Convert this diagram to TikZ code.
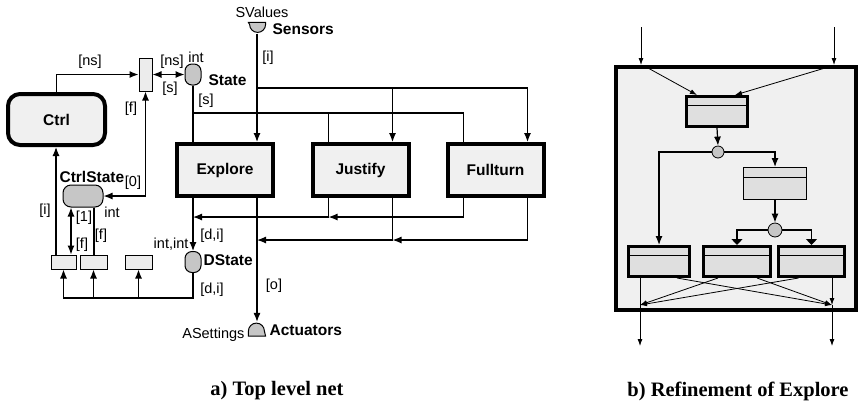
\documentclass[tikz,border=0pt]{standalone}
\usepackage{fontspec}
\setmainfont{Liberation Sans}
\newfontfamily\capfont{Liberation Serif}
\usetikzlibrary{arrows.meta}

\begin{document}
\begin{tikzpicture}[x=1pt, y=-1pt, >={Latex[length=9pt,width=7pt]}, line width=1.2pt,
    font=\fontsize{14.5}{16}\selectfont,
    trans/.style={draw, fill=gray!15, line width=1pt, inner sep=0pt},
    place/.style={draw, fill=gray!45, rounded corners=7pt, line width=1pt, inner sep=0pt},
    proc/.style={draw, fill=gray!12, line width=4pt, inner sep=0pt, minimum width=96, minimum height=52, font=\fontsize{15.5}{17}\selectfont\bfseries},
    sub/.style={draw, fill=gray!25, line width=3pt, inner sep=0pt, minimum height=30},
    lbl/.style={inner sep=1pt},
    bold/.style={font=\fontsize{15.5}{17}\selectfont\bfseries, inner sep=1pt},
    thin/.style={line width=0.8pt, -{Latex[length=7pt,width=5pt]}},
    wide/.style={-{Triangle[width=11pt,length=6pt]}}]

    \useasboundingbox (0,0) rectangle (862,408);

    % a) top level net
    \node[draw, fill=gray!12, line width=4pt, rounded corners=12pt, minimum width=97, minimum height=51, font=\fontsize{15.5}{17}\selectfont\bfseries] (ctrl) at (56.5,119.5) {Ctrl};
    \node[trans, minimum width=13, minimum height=33] (tr1) at (145.5,74.5) {};
    \node[place, minimum width=16, minimum height=21] (state) at (193,74.5) {};
    \node[place, rounded corners=8pt, minimum width=40, minimum height=22] (ctrlstate) at (83,196) {};
    \node[place, minimum width=16, minimum height=21] (dstate) at (193,262) {};

    \node[proc] (explore) at (225,170) {Explore};
    \node[proc] (justify) at (360.5,170) {Justify};
    \node[proc] (fullturn) at (495.5,170) {Fullturn};

    \node[trans, minimum width=25, minimum height=14] (b1) at (63.5,262) {};
    \node[trans, minimum width=27, minimum height=14] (b2) at (93.5,262) {};
    \node[trans, minimum width=27, minimum height=14] (b3) at (138.5,262) {};

    \node[inner sep=0pt, minimum width=16, minimum height=10] (sens) at (257,28) {};
    \draw[fill=gray!45, line width=1pt] (sens.north west) -- (sens.north east) -- ++(0,2) arc[start angle=0, end angle=180, radius=8] -- cycle;
    \node[inner sep=0pt, minimum width=16, minimum height=13] (act) at (257,329) {};
    \draw[fill=gray!45, line width=1pt] (act.south west) -- ++(0,-5) arc[start angle=180, end angle=360, radius=8] -- (act.south east) -- cycle;

    \coordinate (sj) at (193,113);
    \coordinate (ij) at (257,88);
    \coordinate (di1) at (328.5,217);
    \coordinate (di0) at (193,217);
    \coordinate (do1) at (392.5,240);
    \coordinate (do0) at (257,240);
    \coordinate (bot) at (63.5,298);

    \draw[->] (ctrl.north) |- (tr1.west);
    \draw[<->] (tr1.east) -- (state.west);
    \draw[<->] (ctrlstate.east) -| (tr1.south);
    \draw (state.south) -- (state.south |- explore.north);
    \draw (sj) -| ([xshift=-32]fullturn.north);
    \draw ([xshift=-32]justify.north |- sj) -- ([xshift=-32]justify.north);
    \draw[->] (sens.south) -- (sens.south |- explore.north);
    \draw[->] (ij) -| ([xshift=32]fullturn.north);
    \draw[->] ([xshift=32]justify.north |- ij) -- ([xshift=32]justify.north);

    \draw[->] ([xshift=-32]fullturn.south) |- (di1);
    \draw[->] ([xshift=-32]justify.south) |- (di0);
    \draw[->] ([xshift=32]fullturn.south) |- (do1);
    \draw[->] ([xshift=32]justify.south) |- (do0);
    \draw[->] ([xshift=-32]explore.south) -- (dstate.north);
    \draw[->] ([xshift=32]explore.south) -- (act.north);

    \draw[->] (dstate.south) |- (bot) -- (b1.south);
    \draw[->] (b2.south |- bot) -- (b2.south);
    \draw[->] (b3.south |- bot) -- (b3.south);
    \draw[->] ([xshift=-7.5]b1.north) -- ([xshift=-7.5]b1.north |- ctrl.south);
    \draw[<->] ([xshift=-12]ctrlstate.south) -- ([xshift=-12]ctrlstate.south |- b1.north);
    \draw ([xshift=11]ctrlstate.south) -- ([xshift=11]ctrlstate.south |- b2.north);

    % labels
    \node[lbl] (l_sv) at (262,12) {SValues};
    \node[bold, anchor=west] (l_sens) at (271,29) {Sensors};
    \node[lbl] (l_i1) at (268,58) {[i]};
    \node[lbl] (l_ns1) at (90,62) {[ns]};
    \node[lbl] (l_ns2) at (172,62) {[ns]};
    \node[lbl] (l_s1) at (170,89) {[s]};
    \node[lbl] (l_int1) at (196,57) {int};
    \node[bold, anchor=west] (l_state) at (207,80) {State};
    \node[lbl] (l_s2) at (206,101) {[s]};
    \node[lbl] (l_f1) at (131,109) {[f]};
    \node[bold, anchor=west] (l_cs) at (58,177) {CtrlState};
    \node[lbl] (l_0) at (133,183) {[0]};
    \node[lbl] (l_int2) at (112,212) {int};
    \node[lbl] (l_i2) at (45,211) {[i]};
    \node[lbl] (l_1) at (84,218) {[1]};
    \node[lbl] (l_f2) at (82,245) {[f]};
    \node[lbl] (l_f3) at (101,236) {[f]};
    \node[lbl] (l_di1) at (212,236) {[d,i]};
    \node[lbl, anchor=east] (l_ii) at (190,244) {int,int};
    \node[bold, anchor=west] (l_ds) at (202,260) {DState};
    \node[lbl] (l_di2) at (212,290) {[d,i]};
    \node[lbl] (l_o) at (274,286) {[o]};
    \node[lbl, anchor=east] (l_as) at (246,335) {ASettings};
    \node[bold, anchor=west] (l_act) at (268,330) {Actuators};

    % b) refinement of Explore
    \node[draw, fill=gray!12, line width=4pt, minimum width=240, minimum height=243] (expl) at (736,188.5) {};
    \node[sub, minimum width=61] (t1) at (717,111.5) {};
    \node[sub, line width=1pt, minimum width=63, minimum height=32] (m1) at (775,183.5) {};
    \node[sub, minimum width=61] (r1) at (659,261.5) {};
    \node[sub, minimum width=67] (r2) at (737,261.5) {};
    \node[sub, minimum width=66] (r3) at (811.5,261.5) {};
    \foreach \n in {t1,m1,r1,r2,r3}
        \draw[line width=0.9pt] ([yshift=-10pt]\n.north west) -- ([yshift=-10pt]\n.north east);
    \node[circle, draw, fill=gray!45, line width=0.8pt, minimum size=12, inner sep=0pt] (k1) at (718,152) {};
    \node[circle, draw, fill=gray!45, line width=0.8pt, minimum size=14, inner sep=0pt] (k2) at (775,230) {};

    \coordinate (inA) at (641,27);
    \coordinate (inB) at (834,27);
    \coordinate (oA) at (640,305);
    \coordinate (oB) at (832,305);
    \coordinate (outA) at (640,346);
    \coordinate (outB) at (832,346);

    \draw[thin] (inA) -- (inA |- expl.north);
    \draw[thin] (inB) -- (inB |- expl.north);
    \draw[thin] (648,68) -- ([xshift=-20]t1.north);
    \draw[thin] (825,68) -- ([xshift=18]t1.north);
    \draw[->] (t1.south) -- (k1.north);
    \draw[->] (k1.west) -| (r1.north);
    \draw[->] (k1.east) -| (m1.north);
    \draw[->] (m1.south) -- (k2.north);
    \draw[wide] (k2.west) -| (r2.north);
    \draw[wide] (k2.east) -| (r3.north);

    \draw[line width=0.8pt] (r1.south -| oA) -- (oA);
    \draw[thin] (r3.south -| oB) -- (oB);
    \draw[thin] ([xshift=18]r1.south) -- (oB);
    \draw[thin] ([xshift=-19]r2.south) -- (oA);
    \draw[thin] ([xshift=20]r2.south) -- (oB);
    \draw[thin] ([xshift=-13]r3.south) -- (oA);
    \draw[thin] (oA) -- (outA);
    \draw[thin] (oB) -- (outB);

    % captions
    \node[font=\capfont\bfseries\fontsize{20.5}{24}\selectfont] (capa) at (277,391) {a) Top level net};
    \node[font=\capfont\bfseries\fontsize{20.5}{24}\selectfont] (capb) at (738,391) {b) Refinement of Explore};
\end{tikzpicture}
\end{document}
